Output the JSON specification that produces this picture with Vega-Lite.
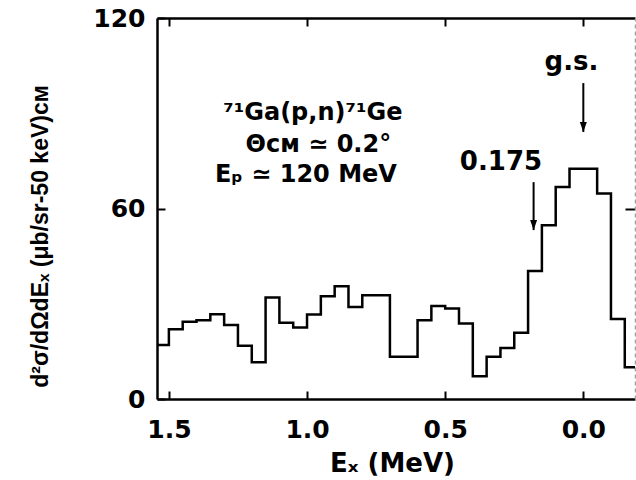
{
  "$schema": "https://vega.github.io/schema/vega-lite/v6.json",
  "width": 478,
  "height": 381,
  "autosize": {"type": "none"},
  "padding": {"left": 157, "top": 18, "right": 1, "bottom": 81},
  "config": {
    "view": {"stroke": null},
    "axis": {
      "grid": false,
      "domainColor": "black",
      "domainWidth": 2.5,
      "tickColor": "black",
      "tickWidth": 2,
      "labelFont": "DejaVu Sans",
      "labelFontWeight": "bold",
      "labelFontSize": 25,
      "labelColor": "black",
      "titleColor": "black"
    }
  },
  "datasets": {
    "bins": [
      {"lo": -0.20, "hi": -0.15, "v": 10.0},
      {"lo": -0.15, "hi": -0.10, "v": 25.2},
      {"lo": -0.10, "hi": -0.05, "v": 64.7},
      {"lo": -0.05, "hi": 0.00, "v": 72.5},
      {"lo": 0.00, "hi": 0.05, "v": 72.5},
      {"lo": 0.05, "hi": 0.10, "v": 66.8},
      {"lo": 0.10, "hi": 0.15, "v": 54.7},
      {"lo": 0.15, "hi": 0.20, "v": 40.3},
      {"lo": 0.20, "hi": 0.25, "v": 20.9},
      {"lo": 0.25, "hi": 0.30, "v": 16.1},
      {"lo": 0.30, "hi": 0.35, "v": 13.3},
      {"lo": 0.35, "hi": 0.40, "v": 7.2},
      {"lo": 0.40, "hi": 0.45, "v": 23.8},
      {"lo": 0.45, "hi": 0.50, "v": 28.5},
      {"lo": 0.50, "hi": 0.55, "v": 29.3},
      {"lo": 0.55, "hi": 0.60, "v": 24.8},
      {"lo": 0.60, "hi": 0.65, "v": 13.3},
      {"lo": 0.65, "hi": 0.70, "v": 13.3},
      {"lo": 0.70, "hi": 0.75, "v": 32.7},
      {"lo": 0.75, "hi": 0.80, "v": 32.7},
      {"lo": 0.80, "hi": 0.85, "v": 29.0},
      {"lo": 0.85, "hi": 0.90, "v": 35.5},
      {"lo": 0.90, "hi": 0.95, "v": 32.4},
      {"lo": 0.95, "hi": 1.00, "v": 26.6},
      {"lo": 1.00, "hi": 1.05, "v": 22.5},
      {"lo": 1.05, "hi": 1.10, "v": 24.0},
      {"lo": 1.10, "hi": 1.15, "v": 32.0},
      {"lo": 1.15, "hi": 1.20, "v": 11.6},
      {"lo": 1.20, "hi": 1.25, "v": 16.8},
      {"lo": 1.25, "hi": 1.30, "v": 23.3},
      {"lo": 1.30, "hi": 1.35, "v": 26.7},
      {"lo": 1.35, "hi": 1.40, "v": 24.8},
      {"lo": 1.40, "hi": 1.45, "v": 24.3},
      {"lo": 1.45, "hi": 1.50, "v": 22.0},
      {"lo": 1.50, "hi": 1.55, "v": 17.0}
    ],
    "arrows": [
      {"E": 0.0, "top": 99.5, "tip": 84.1},
      {"E": 0.18, "top": 68.3, "tip": 53.2}
    ],
    "notes": [
      {"E": 0.979, "v": 87.9, "text": "⁷¹Ga(p,n)⁷¹Ge", "size": "s"},
      {"E": 0.959, "v": 77.8, "text": "Θᴄᴍ ≃ 0.2°", "size": "s"},
      {"E": 1.004, "v": 68.3, "text": "Eₚ ≃ 120 MeV", "size": "s"},
      {"E": 0.298, "v": 72.1, "text": "0.175", "size": "l"},
      {"E": 0.043, "v": 103.6, "text": "g.s.", "size": "l"}
    ]
  },
  "layer": [
    {
      "data": {"name": "bins"},
      "transform": [
        {"fold": ["lo", "hi"], "as": ["edge", "E"]},
        {"window": [{"op": "row_number", "as": "ord"}]}
      ],
      "mark": {"type": "line", "color": "black", "strokeWidth": 2.5, "clip": true, "strokeJoin": "miter"},
      "encoding": {
        "x": {
          "field": "E", "type": "quantitative",
          "scale": {"domain": [-0.187, 1.543], "reverse": true, "zero": false, "nice": false},
          "axis": {
            "orient": "bottom", "values": [1.5, 1, 0.5, 0], "format": ".1f",
            "tickSize": -8, "labelPadding": 26,
            "title": "Eₓ (MeV)", "titleFont": "DejaVu Sans", "titleFontWeight": "bold", "titleFontSize": 26,
            "titleX": 235, "titleY": 64, "titleBaseline": "middle", "titleAlign": "center"
          }
        },
        "y": {
          "field": "v", "type": "quantitative",
          "scale": {"domain": [0, 120], "nice": false},
          "axis": {
            "orient": "left", "values": [0, 60, 120], "tickSize": -8, "labelPadding": 20,
            "title": "d²σ/dΩdEₓ (μb/sr-50 keV)ᴄᴍ", "titleFont": "Liberation Sans", "titleFontWeight": "bold",
            "titleFontSize": 23, "titleAngle": -90, "titleX": -117, "titleY": 218,
            "titleAlign": "center", "titleBaseline": "middle"
          }
        },
        "order": {"field": "ord", "type": "quantitative"}
      }
    },
    {
      "data": {"name": "arrows"},
      "mark": {"type": "rule", "color": "black", "strokeWidth": 2},
      "encoding": {
        "x": {
          "field": "E", "type": "quantitative",
          "axis": {"orient": "top", "values": [1.5, 1, 0.5, 0], "tickSize": -8, "labels": false, "title": null}
        },
        "y": {
          "field": "top", "type": "quantitative",
          "axis": {"orient": "right", "values": [60], "tickSize": -10, "labels": false, "title": null,
                   "domainColor": "#a0a0a0", "domainWidth": 1.5, "domainDash": [4, 3]}
        },
        "y2": {"field": "tip"}
      }
    },
    {
      "data": {"name": "arrows"},
      "mark": {"type": "point", "shape": "M-0.7,-2L0.7,-2L0,0Z", "filled": true, "color": "black", "size": 100, "opacity": 1},
      "encoding": {
        "x": {"field": "E", "type": "quantitative", "axis": null},
        "y": {"field": "tip", "type": "quantitative", "axis": null}
      }
    },
    {
      "data": {"name": "notes"},
      "mark": {"type": "text", "font": "DejaVu Sans", "fontWeight": "bold", "align": "center", "baseline": "alphabetic", "color": "black"},
      "encoding": {
        "x": {"field": "E", "type": "quantitative", "axis": null},
        "y": {"field": "v", "type": "quantitative", "axis": null},
        "text": {"field": "text"},
        "size": {"field": "size", "type": "nominal", "scale": {"domain": ["s", "l"], "range": [24, 26]}, "legend": null}
      }
    }
  ],
  "resolve": {"axis": {"x": "independent", "y": "independent"}}
}
